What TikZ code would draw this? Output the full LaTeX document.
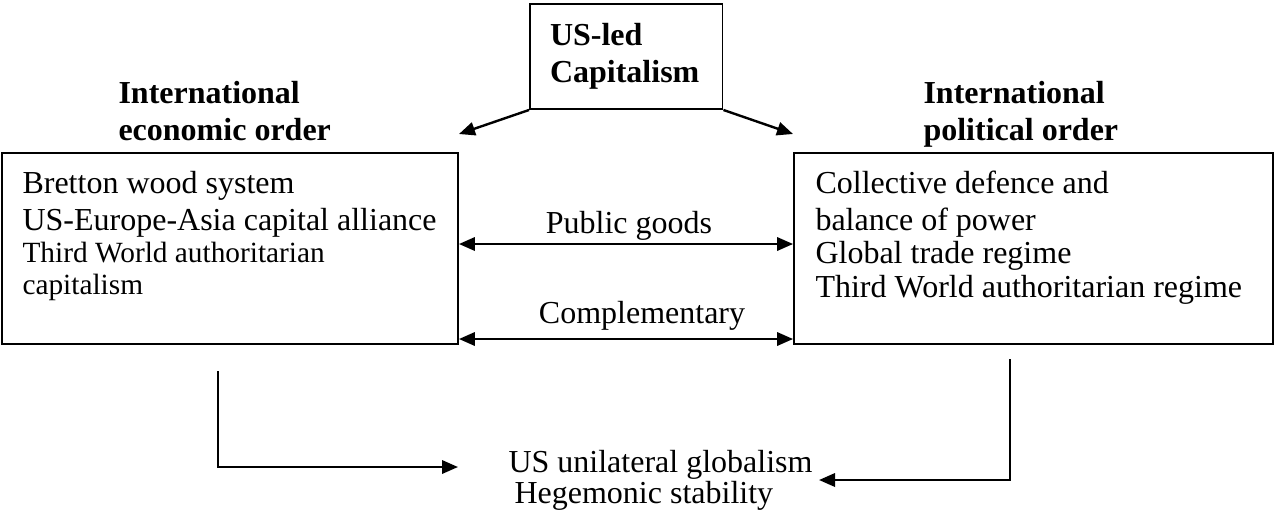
\documentclass[tikz,border=0pt]{standalone}
\usepackage{fontspec}
\setmainfont{Liberation Serif}
\usetikzlibrary{arrows.meta}

\tikzset{
  hd/.style={font=\fontsize{12}{14}\selectfont\bfseries,anchor=base west,inner sep=0pt},
  txt/.style={font=\fontsize{12}{14}\selectfont,anchor=base west,inner sep=0pt},
  sml/.style={font=\fontsize{11}{13}\selectfont,anchor=base west,inner sep=0pt},
  frame/.style={draw,line width=0.7pt,inner sep=0pt},
  arr/.style={-{Triangle[length=6pt,width=5pt]},line width=0.9pt},
  dbl/.style={{Triangle[length=6pt,width=5pt]}-{Triangle[length=6pt,width=5pt]},line width=0.9pt}
}

\begin{document}
\begin{tikzpicture}[x=0.375pt,y=-0.375pt]
\useasboundingbox (0,0) rectangle (1275,513);
% boxes
\node[frame,minimum width=171pt,minimum height=71.625pt] (eco) at (230,248.5) {};
\node[frame,minimum width=179.625pt,minimum height=71.625pt] (pol) at (1033.5,248.5) {};
\node[frame,minimum width=72.2pt,minimum height=39.4pt] (cap) at (626.25,56.5) {};
% headings
\node[hd] (capa) at (549.5,45) {US-led};
\node[hd] (capb) at (549.5,82) {Capitalism};
\node[hd] (ecoa) at (118,103) {International};
\node[hd] (ecob) at (118,140) {economic order};
\node[hd] (pola) at (923,103) {International};
\node[hd] (polb) at (923,140) {political order};
% box contents
\foreach \t/\y/\n in {Bretton wood system/193/1,US-Europe-Asia capital alliance/230/2}
  \node[txt] (eco\n) at (22,\y) {\t};
\foreach \t/\y/\n in {Third World authoritarian/262/3,capitalism/294/4}
  \node[sml] (eco\n) at (22,\y) {\t};
\foreach \t/\y/\n in {Collective defence and/193/1,balance of power/230/2,
  Global trade regime/263/3,Third World authoritarian regime/297/4}
  \node[txt] (pol\n) at (815,\y) {\t};
% top arrows
\coordinate (ecoin) at (459,134);
\coordinate (polin) at (793,134);
\draw[arr] (cap.south west) -- (ecoin);
\draw[arr] (cap.south east) -- (polin);
% links between the orders
\node[txt,anchor=base] (pg) at (629,233) {Public goods};
\node[txt,anchor=base] (cm) at (642,323) {Complementary};
\draw[dbl] (eco.east |- 0,244) -- (pol.west |- 0,244);
\draw[dbl] (eco.east |- 0,339) -- (pol.west |- 0,339);
% outcome
\node[txt] (goala) at (508,472) {US unilateral globalism};
\node[txt] (goalb) at (514,503) {Hegemonic stability};
\coordinate (ecoout) at (218,371);
\coordinate (polout) at (1010,359);
\coordinate (goalw) at (458,467);
\coordinate (goale) at (819,480);
\draw[arr] (ecoout) |- (goalw);
\draw[arr] (polout) |- (goale);
\end{tikzpicture}
\end{document}
